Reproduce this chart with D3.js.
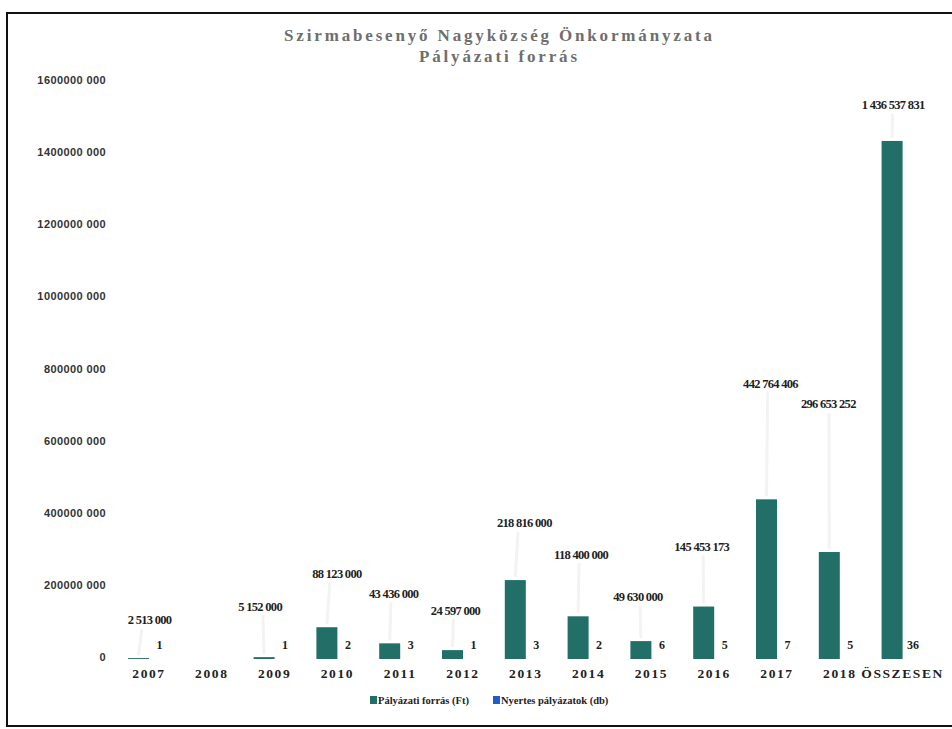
<!DOCTYPE html>
<html>
<head>
<meta charset="utf-8">
<script src="https://cdn.jsdelivr.net/npm/d3@7"></script>
<style>
  html, body { margin: 0; padding: 0; background: #fff; }
  svg { display: block; }
</style>
</head>
<body>
<svg id="chart" width="952" height="729"></svg>
<script>
// Pályázati forrás – bar chart, amounts per year plus the number of won applications.

const categories = ['2007', '2008', '2009', '2010', '2011', '2012', '2013', '2014', '2015', '2016', '2017', '2018', 'ÖSSZESEN'];
const amounts = [2513000, 0, 5152000, 88123000, 43436000, 24597000, 218816000, 118400000, 49630000, 145453173, 442764406, 296653252, 1436537831];
const counts = [1, 0, 1, 2, 3, 1, 3, 2, 6, 5, 7, 5, 36];
const yTicks = [0, 200000000, 400000000, 600000000, 800000000, 1000000000, 1200000000, 1400000000, 1600000000];
const seriesNames = ['Pályázati forrás (Ft)', 'Nyertes pályázatok (db)'];
const titleLines = ['Szirmabesenyő Nagyközség Önkormányzata', 'Pályázati forrás'];

// Hand placement of the amount labels (dx from bar centre, dy from bar top), as in the original.
const LABEL_NUDGE = [[11, -38], [0, -38], [-4, -51], [10, -54], [4, -50], [3, -40], [9, -57],
                     [3, -62], [-3, -44], [-2, -60], [4, -116], [-1, -148], [1, -36]];

const COLORS = ['#216f66', '#1f5fc4'];
const SERIF = '"Liberation Serif", "DejaVu Serif", serif';
const SANS = '"Liberation Sans", Arial, sans-serif';

const svg = d3.select('#chart');

// frame
svg.append('rect')
    .attr('x', 7).attr('y', 13).attr('width', 950).attr('height', 713)
    .attr('fill', 'none').attr('stroke', '#111').attr('stroke-width', 2);

const x = d3.scaleBand().domain(categories).range([117.6, 934])
    .paddingInner(0.3312).paddingOuter(0.1656);
const x1 = d3.scaleBand().domain([0, 1]).range([0, x.bandwidth()]);
const y = d3.scaleLinear().domain([0, 1600000000]).range([659, 82]);

const fmt = d3.formatLocale({ thousands: ' ', grouping: [3], decimal: ',', currency: ['', ''] }).format(',');

// title
const titleSpec = [{ y: 41, w: 428, size: 17 }, { y: 62, w: 158, size: 17 }];
svg.append('g').selectAll('text').data(titleLines).join('text')
    .attr('x', 498).attr('y', (d, i) => titleSpec[i].y)
    .attr('text-anchor', 'middle')
    .attr('textLength', (d, i) => titleSpec[i].w)
    .attr('lengthAdjust', 'spacing')
    .attr('font-family', SERIF).attr('font-weight', 'bold')
    .attr('font-size', (d, i) => titleSpec[i].size)
    .attr('fill', '#6e6e6e')
    .text(d => d);

// y axis: labels only
const yAxis = d3.axisLeft(y).tickValues(yTicks).tickSize(0).tickPadding(0)
    .tickFormat(v => v === 0 ? '0' : `${v / 1000} 000`);
const gy = svg.append('g').attr('transform', 'translate(106,-2)').call(yAxis);
gy.select('.domain').remove();
gy.selectAll('text')
    .attr('font-family', SANS).attr('font-size', 11).attr('font-weight', 'bold')
    .attr('letter-spacing', 0.4).attr('fill', '#333');

const groups = svg.append('g').selectAll('g').data(categories).join('g')
    .attr('transform', d => `translate(${x(d)},0)`);

// faint leader lines behind labels
groups.filter(d => amounts[categories.indexOf(d)] > 0).append('line')
    .attr('x1', d => x1(0) + x1.bandwidth() / 2 + LABEL_NUDGE[categories.indexOf(d)][0] * 0.3)
    .attr('x2', x1(0) + x1.bandwidth() / 2)
    .attr('y1', d => { const i = categories.indexOf(d); return y(amounts[i]) + LABEL_NUDGE[i][1] + 9; })
    .attr('y2', d => { const i = categories.indexOf(d); return y(amounts[i]) - 3; })
    .attr('stroke', '#f3f3f3').attr('stroke-width', 3);

// amount bars
groups.append('rect')
    .attr('x', x1(0)).attr('width', x1.bandwidth())
    .attr('y', (d, i) => y(amounts[i]))
    .attr('height', (d, i) => y(0) - y(amounts[i]))
    .attr('fill', COLORS[0]);

// count bars (tiny on this scale)
groups.append('rect')
    .attr('x', x1(1)).attr('width', x1.bandwidth())
    .attr('y', (d, i) => y(counts[i]))
    .attr('height', (d, i) => y(0) - y(counts[i]))
    .attr('fill', COLORS[1]);

// amount labels
groups.filter(d => amounts[categories.indexOf(d)] > 0).append('text')
    .attr('x', d => x1(0) + x1.bandwidth() / 2 + LABEL_NUDGE[categories.indexOf(d)][0])
    .attr('y', d => { const i = categories.indexOf(d); return y(amounts[i]) + LABEL_NUDGE[i][1]; })
    .attr('dy', '0.35em')
    .attr('text-anchor', 'middle')
    .attr('font-family', SERIF).attr('font-weight', 'bold').attr('font-size', 12.5)
    .attr('letter-spacing', -0.7).attr('fill', '#1e1e1e')
    .text(d => fmt(amounts[categories.indexOf(d)]));

// count labels
groups.filter(d => counts[categories.indexOf(d)] > 0).append('text')
    .attr('x', x1(1) + x1.bandwidth() / 2)
    .attr('y', y(0) - 14)
    .attr('dy', '0.35em')
    .attr('text-anchor', 'middle')
    .attr('font-family', SERIF).attr('font-weight', 'bold').attr('font-size', 12)
    .attr('fill', '#1e1e1e')
    .text(d => counts[categories.indexOf(d)]);

// category labels
const xAxis = d3.axisBottom(x).tickSize(0).tickPadding(0);
const gx = svg.append('g').attr('transform', `translate(0,${y(0) + 14})`).call(xAxis);
gx.select('.domain').remove();
gx.selectAll('text')
    .attr('dy', '0.35em')
    .attr('font-family', SERIF).attr('font-weight', 'bold').attr('font-size', 13.5)
    .attr('letter-spacing', 1.6).attr('fill', '#222');

// legend
const legendX = [370, 493];
const legend = svg.append('g').selectAll('g').data(seriesNames).join('g')
    .attr('transform', (d, i) => `translate(${legendX[i]},700)`);
legend.append('rect').attr('x', 0).attr('y', -4).attr('width', 7).attr('height', 8)
    .attr('fill', (d, i) => COLORS[i]);
legend.append('text').attr('x', 8).attr('dy', '0.35em')
    .attr('font-family', SERIF).attr('font-weight', 'bold').attr('font-size', 10.5)
    .attr('fill', '#222')
    .text(d => d);
</script>
</body>
</html>
